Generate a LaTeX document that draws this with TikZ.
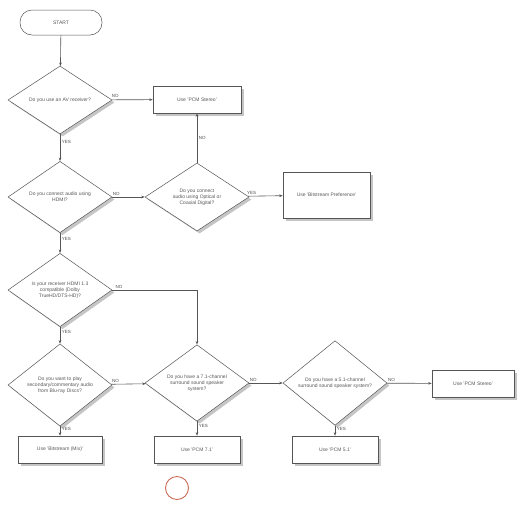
\documentclass[tikz,border=0pt]{standalone}
\usepackage{fontspec}
\setmainfont{Liberation Sans}
\usetikzlibrary{shapes.geometric,shadows,arrows.meta}
\definecolor{circ}{RGB}{205,105,85}
\definecolor{linec}{RGB}{85,85,85}
\begin{document}
\begin{tikzpicture}[x=1pt,y=-1pt,
  every node/.style={font=\fontsize{5}{6}\selectfont, text=black!65},
  shade1/.style={drop shadow={shadow xshift=2.5pt, shadow yshift=-2.5pt, opacity=0.5, fill=black!45}},
  dec/.style={diamond, draw=linec, fill=white, line width=0.5pt, minimum width=104pt, minimum height=68pt, inner sep=0pt, align=center, shade1},
  act/.style={rectangle, draw=linec, fill=white, line width=0.5pt, minimum width=86pt, minimum height=27pt, align=center, shade1},
  term/.style={rectangle, rounded corners=12pt, draw=linec, fill=white, line width=0.5pt, minimum width=82pt, minimum height=25pt},
  conn/.style={draw=linec, line width=0.6pt, -{Stealth[length=3.5pt,width=2.6pt]}},
  lab/.style={font=\fontsize{4.5}{5}\selectfont, text=black!70, inner sep=1.5pt}
]
\useasboundingbox (0,0) rectangle (521,504);
\node[term] (start) at (61,22.5) {START};
\node[dec] (d1) at (60,100) {Do you use an AV receiver?};
\node[act, minimum width=88pt] (pcm1) at (197,99.5) {Use 'PCM Stereo'};
\node[dec] (d2) at (60,197) {Do you connect audio using\\HDMI?};
\node[dec] (d3) at (197,197) {Do you connect\\audio using Optical or\\Coaxial Digital?};
\node[act, minimum width=87pt, minimum height=46pt] (bs) at (326.5,195) {Use 'Bitstream Preference'};
\node[dec] (d4) at (60,290) {Is your receiver HDMI 1.3\\compatible (Dolby\\TrueHD/DTS-HD)?};
\node[dec] (d6) at (60,385) {Do you want to play\\secondary/commentary audio\\from Blu-ray Discs?};
\node[dec] (d5) at (197,383) {Do you have a 7.1-channel\\surround sound speaker\\system?};
\node[dec] (d7) at (335,383) {Do you have a 5.1-channel\\surround sound speaker system?};
\node[act, minimum width=82pt] (pcm2) at (473,383.5) {Use 'PCM Stereo'};
\node[act, minimum width=84pt] (bmix) at (60,449.5) {Use 'Bitstream (Mix)'};
\node[act] (pcm71) at (197,449.5) {Use 'PCM 7.1'};
\node[act] (pcm51) at (335,449.5) {Use 'PCM 5.1'};
\node[circle, draw=circ, line width=0.9pt, minimum size=23pt, inner sep=0pt] (mark) at (177,488) {};

\draw[conn] (start) -- (d1);
\draw[conn] (d1) -- node[lab, above, pos=0.08]{NO} (pcm1);
\draw[conn] (d1) -- node[lab, right, pos=0.3]{YES} (d2);
\draw[conn] (d2) -- node[lab, above, pos=0.12]{NO} (d3);
\draw[conn] (d3.north) -- node[lab, right, pos=0.5]{NO} (pcm1.south);
\draw[conn] (d3) -- node[lab, above, pos=0.1]{YES} (bs);
\draw[conn] (d2) -- node[lab, right, pos=0.3]{YES} (d4);
\draw[conn] (d4.east) -- node[lab, above, pos=0.08]{NO} (d4.east -| d5.north) -- (d5.north);
\draw[conn] (d4) -- node[lab, right, pos=0.3]{YES} (d6);
\draw[conn] (d6) -- node[lab, above, pos=0.12]{NO} (d5);
\draw[conn] (d6) -- node[lab, right, pos=0.3]{YES} (bmix);
\draw[conn] (d5) -- node[lab, above, pos=0.12]{NO} (d7);
\draw[conn] (d5) -- node[lab, right, pos=0.3]{YES} (pcm71);
\draw[conn] (d7) -- node[lab, above, pos=0.1]{NO} (pcm2);
\draw[conn] (d7) -- node[lab, right, pos=0.3]{YES} (pcm51);
\end{tikzpicture}
\end{document}
